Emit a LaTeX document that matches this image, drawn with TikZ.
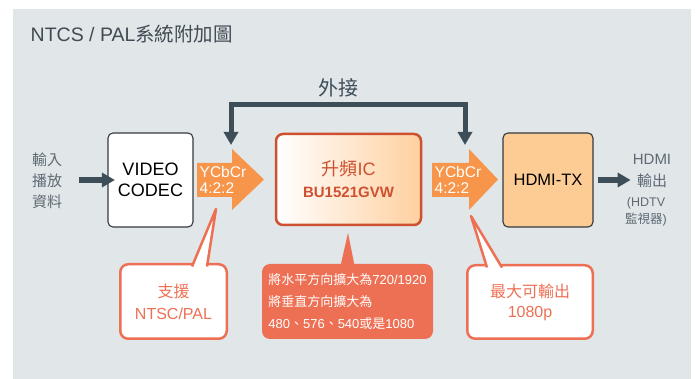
\documentclass[tikz,border=0pt]{standalone}
\usepackage{fontspec}
\setmainfont{Liberation Sans}
\newfontfamily\cjk{Noto Sans CJK TC}
\usetikzlibrary{arrows.meta}

\definecolor{panel}{RGB}{225,230,233}
\definecolor{slate}{RGB}{62,78,88}
\definecolor{titlegrey}{RGB}{64,75,83}
\definecolor{sidegrey}{RGB}{94,106,115}
\definecolor{boxline}{RGB}{52,58,63}
\definecolor{signal}{RGB}{247,150,74}
\definecolor{chipred}{RGB}{206,80,48}
\definecolor{peach}{RGB}{255,208,160}
\definecolor{txpeach}{RGB}{253,203,148}
\definecolor{callout}{RGB}{238,112,84}

\begin{document}
\begin{tikzpicture}[x=1pt,y=-1pt,line join=miter,
  block/.style={draw=boxline, line width=1.1pt, rounded corners=5pt, minimum width=85pt, minimum height=94pt, align=center, inner sep=0pt},
  chip/.style={draw=chipred, line width=2.5pt, rounded corners=7pt, minimum width=145pt, minimum height=91pt, left color=white, right color=peach, align=center, text=chipred, inner sep=0pt},
  sidetext/.style={text=sidegrey, align=center, inner sep=0pt},
  sigtext/.style={anchor=west, text=white, align=left, inner sep=0pt, font=\fontsize{15.5}{15.5}\selectfont},
  flow/.style={draw=slate, line width=6pt, -{Triangle[width=14pt,length=13pt]}},
  bus/.style={draw=slate, line width=5pt, {Triangle[width=14pt,length=13pt]}-{Triangle[width=14pt,length=13pt]}},
  bubble/.style={draw=callout, line width=2.5pt, fill=white, rounded corners=8pt, text=callout, align=center, inner sep=0pt},
  pointer/.style={draw=callout, line width=2.5pt, line join=round},
  notebox/.style={fill=callout, rounded corners=8pt, text=white, align=left, inner sep=0pt}]

  \path[use as bounding box] (0,0) rectangle (697,379);
  \fill[panel] (13,9) rectangle (691,379);

  \node[anchor=base west, text=titlegrey, inner sep=0pt, font=\fontsize{19.5}{19.5}\selectfont] (title) at (30.5,42) {NTCS / PAL{\cjk 系統附加圖}};

  % signal arrows
  \foreach \xa/\xb/\xc in {197/232/264, 432/469/498}
    \fill[signal] (\xa,163) -- (\xb,163) -- (\xb,149) -- (\xc,179.5) -- (\xb,210) -- (\xb,197) -- (\xa,197) -- cycle;
  \node[sigtext] (ycca) at (199.5,180) {YCbCr\\4:2:2};
  \node[sigtext] (yccb) at (434.5,180) {YCbCr\\4:2:2};

  \node[sidetext, font=\fontsize{15}{21}\selectfont\cjk] (src) at (47,181) {輸入\\播放\\資料};
  \node[block, fill=white, font=\fontsize{18}{21}\selectfont] (codec) at (150.5,180) {VIDEO\\CODEC};
  \node[chip, font=\fontsize{18}{22}\selectfont] (chip) at (348.5,179.5) {{\cjk 升頻}IC\\{\bfseries\fontsize{15}{15}\selectfont BU1521GVW}};
  \node[block, fill=txpeach, minimum width=90pt, font=\fontsize{16.5}{16.5}\selectfont] (hdmitx) at (548,180) {HDMI-TX};
  \node[sidetext, font=\fontsize{15}{22}\selectfont] (sink) at (652,171) {HDMI\\{\cjk 輸出}};
  \node[sidetext, font=\fontsize{12.5}{17}\selectfont] (monitor) at (646,211.5) {(HDTV\\{\cjk 監視器})};

  \draw[flow] ([xshift=17pt]src.east |- codec.west) -- ([xshift=7.5pt]codec.west);
  \draw[flow] ([xshift=4pt]hdmitx.east) -- ([xshift=-2pt]sink.west |- hdmitx.east);

  % external path
  \coordinate (exta) at (231,145);
  \coordinate (extb) at (465,145);
  \coordinate (bustop) at (348,105);
  \node[text=slate, inner sep=0pt, font=\fontsize{20}{20}\selectfont\cjk] (ext) at (338,88) {外接};
  \draw[bus] (exta) |- (bustop) -| (extb);

  % callouts
  \node[bubble, minimum width=106.5pt, minimum height=74.5pt, font=\fontsize{16}{22}\selectfont] (pal) at (173.5,301.5) {{\cjk 支援}\\NTSC/PAL};
  \coordinate (palptr) at (216,209);
  \fill[white] (192,266.5) -- (palptr) -- (207,266.5) -- cycle;
  \draw[pointer] (192,266.5) -- (palptr) -- (207,266.5);

  \node[notebox, minimum width=171pt, minimum height=75pt, font=\fontsize{13}{22}\selectfont] (scale) at (347.5,301.5)
    {{\cjk 將水平方向擴大為}720/1920\\{\cjk 將垂直方向擴大為}\\480{\cjk 、}576{\cjk 、}540{\cjk 或是}1080};
  \coordinate (scaleptr) at (348,233);
  \fill[callout] (340,268) -- (scaleptr) -- (355,268) -- cycle;

  \node[bubble, minimum width=125.5pt, minimum height=73.5pt, font=\fontsize{16}{20}\selectfont] (fullhd) at (530,302) {{\cjk 最大可輸出}\\1080p};
  \coordinate (fullhdptr) at (471,216);
  \fill[white] (487,267.5) -- (fullhdptr) -- (502,267.5) -- cycle;
  \draw[pointer] (487,267.5) -- (fullhdptr) -- (502,267.5);
\end{tikzpicture}
\end{document}
